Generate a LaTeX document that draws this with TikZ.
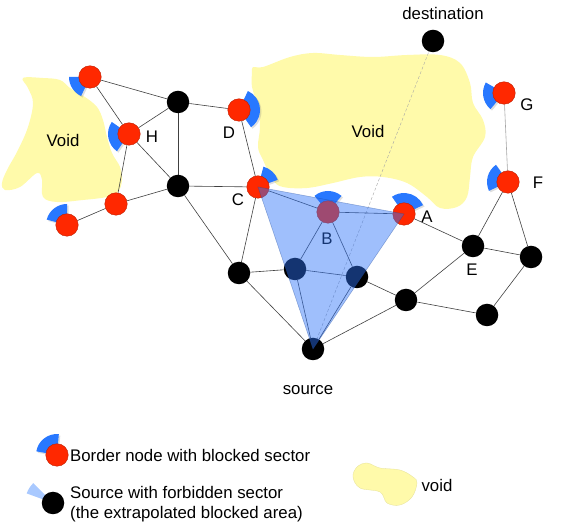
\documentclass[tikz,border=0pt]{standalone}
\usepackage{fontspec}
\setmainfont{Liberation Sans}
\usetikzlibrary{shadows}
\pgfdeclarelayer{bg}
\pgfsetlayers{bg,main}
\definecolor{cred}{RGB}{255,40,0}
\definecolor{cblue}{RGB}{40,120,255}
\definecolor{cvoid}{RGB}{255,250,170}
\definecolor{ccone}{RGB}{45,115,248}
\tikzset{
  bnode/.style={circle,fill=cred,draw=cred!75!black,line width=0.4pt,
    minimum size=22.5pt,inner sep=0pt},
  knode/.style={circle,fill=black,minimum size=22.5pt,inner sep=0pt},
  lbl/.style={inner sep=0pt,font=\fontsize{16.8}{20}\selectfont},
  edge/.style={draw=black!75,line width=0.6pt},
  % blocked sector of a border node, forbidden cone of the source
  blocked/.style={fill=cblue,drop shadow={opacity=0.25,shadow xshift=1.5pt,
    shadow yshift=-1.5pt}},
  cone/.style={fill=ccone,fill opacity=0.46,draw=ccone!60!black,
    draw opacity=0.4,line width=0.5pt},
  lightcone/.style={fill=cblue!50,fill opacity=0.8},
  void/.style={fill=cvoid},
  sightline/.style={draw=gray!70,line width=0.4pt,dash pattern=on 3pt off 2pt}
}
\begin{document}
\begin{tikzpicture}[x=1pt,y=1pt]
  \useasboundingbox (0,0) rectangle (581,527);
  \node[knode] (dst) at (433,486) {};
  \node[bnode] (tl) at (90,450) {};
  \node[bnode] (H) at (129,393) {};
  \node[knode] (k1) at (178,425) {};
  \node[bnode] (D) at (239,417) {};
  \node[knode] (k2) at (178,341) {};
  \node[bnode] (r1) at (116,323) {};
  \node[bnode] (r2) at (67,302) {};
  \node[bnode] (C) at (258,340) {};
  \node[bnode] (B) at (328,315) {};
  \node[bnode] (A) at (404,313) {};
  \node[bnode] (G) at (504,434) {};
  \node[bnode] (F) at (508,345) {};
  \node[knode] (E) at (473,281) {};
  \node[knode] (k3) at (531,270) {};
  \node[knode] (k4) at (487,212) {};
  \node[knode] (k5) at (406,227) {};
  \node[knode] (k6) at (357,250) {};
  \node[knode] (k7) at (295,258) {};
  \node[knode] (k8) at (239,254) {};
  \node[knode] (src) at (313,178) {};
  % legend nodes
  \node[bnode] (lgb) at (57,72) {};
  \node[knode] (lgs) at (53,24) {};

  \begin{pgfonlayer}{bg}
    \fill[void] plot[smooth cycle,tension=0.6] coordinates {(23,449) (43,449)
      (60,447) (70,439) (85,430) (97,420) (103,407) (107,390) (112,374)
      (120,360) (122,347) (118,335) (107,330) (83,327) (57,325) (43,330)
      (42,347) (37,354) (20,340) (5,337) (2,344) (7,357) (18,377) (28,400)
      (33,424) (28,439)};
    \fill[void] plot[smooth cycle,tension=0.6] coordinates {(253,460) (263,460)
      (290,470) (313,474) (340,472) (373,470) (407,472) (440,472) (460,464)
      (470,444) (473,424) (483,407) (485,390) (473,370) (470,350) (467,330)
      (457,320) (440,319) (427,330) (407,344) (383,350) (360,350) (333,344)
      (307,339) (283,340) (273,347) (263,367) (258,380) (260,400) (258,420)
      (252,440) (252,454)};
    \filldraw[void,draw=cvoid!90!black,line width=0.3pt] plot[smooth cycle,tension=0.6]
      coordinates {(367,64) (380,59) (400,57) (413,50) (417,44) (412,30)
      (400,22) (387,24) (380,35) (360,39) (353,50) (357,60)};
    \draw[sightline] (src.center) -- (dst.center);
    \foreach \a/\b in {tl/H,tl/k1,H/k1,H/k2,H/r1,r1/k2,r1/r2,k1/k2,k1/D,D/C,
      k2/C,k2/k8,C/k8,C/B,B/A,B/k7,B/k6,k7/k6,k8/k7,k8/src,k7/src,k6/src,
      k6/k5,k5/src,k5/E,k5/k4,A/E,E/F,F/k3,E/k3,k3/k4}
      \draw[edge] (\a) -- (\b);
    \draw[edge,draw=gray!70] (F) -- (G);
    \foreach \n/\s/\e in {tl/180/245,H/145/235,D/-55/65,C/20/75,r2/90/165,
      B/50/130,A/25/125,G/150/230,F/125/205,lgb/85/170}
      \fill[blocked] (\n.center) -- ++(\s:21) arc[start angle=\s,end angle=\e,
        radius=21] -- cycle;
    \fill[lightcone] (lgs.center) -- ++(135:28) arc[start angle=135,
      end angle=160,radius=28] -- cycle;
  \end{pgfonlayer}

  \node[lbl] (tdst) at (443,513) {destination};
  \node[lbl] (tH) at (152,390) {H};
  \node[lbl] (tD) at (229,394) {D};
  \node[lbl] (tC) at (238,327) {C};
  \node[lbl] (tB) at (327,288) {B};
  \node[lbl] (tA) at (427,310) {A};
  \node[lbl] (tG) at (527,422) {G};
  \node[lbl] (tF) at (538,344) {F};
  \node[lbl] (tE) at (472,257) {E};
  \node[lbl] (tsrc) at (308,137) {source};
  \node[lbl] (tv1) at (63,386) {Void};
  \node[lbl] (tv2) at (368,395) {Void};

  \fill[cone] (C.center) -- (src.center) -- (A.center) -- cycle;

  \node[lbl,anchor=west] (tlgb) at (70,72) {Border node with blocked sector};
  \node[lbl,anchor=west,align=left] (tlgs) at (70,23)
    {Source with forbidden sector\\(the extrapolated blocked area)};
  \node[lbl] (tlgv) at (437,42) {void};
\end{tikzpicture}
\end{document}
